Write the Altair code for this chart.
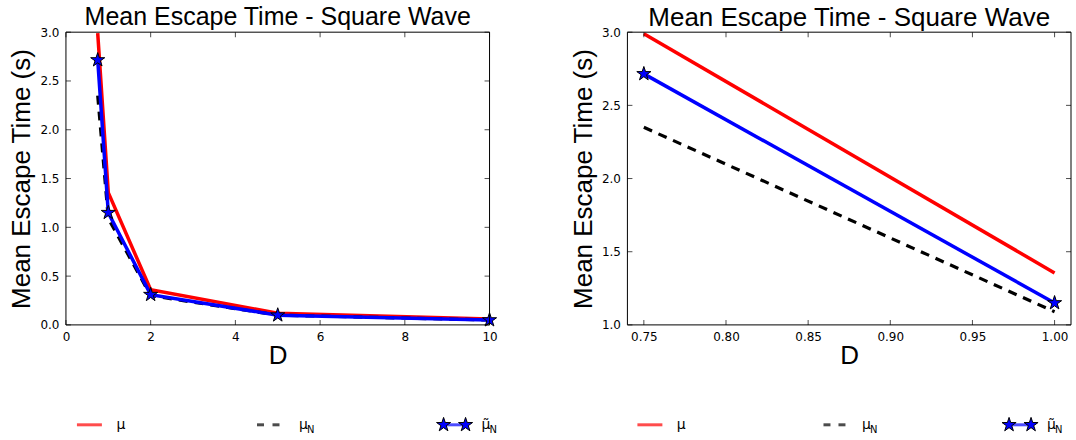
import altair as alt
import pandas as pd

# ---- data ----
D = [0.75, 1.0, 2.0, 5.0, 10.0]
mu = [2.99, 1.355, 0.36, 0.12, 0.06]
mu_N = [2.35, 1.09, 0.30, 0.10, 0.05]
mu_tilde_N = [2.715, 1.15, 0.31, 0.10, 0.05]

left_xdom = [0, 10]
left_ydom = [0, 3]
right_xdom = [0.74, 1.01]
right_ydom = [1, 3]
left_xticks = [0, 2, 4, 6, 8, 10]
left_yticks = [0.0, 0.5, 1.0, 1.5, 2.0, 2.5, 3.0]
right_xticks = [0.75, 0.80, 0.85, 0.90, 0.95, 1.00]
right_yticks = [1.0, 1.5, 2.0, 2.5, 3.0]

legend_keys = ["mu", "muN", "mutN"]
legend_main = ["μ", "μ", "μ̃"]
legend_sub = ["", "N", "N"]

chart_title = "Mean Escape Time - Square Wave"
x_title = "D"
y_title = "Mean Escape Time (s)"

series_df = pd.DataFrame({
    "D": D * 3,
    "value": mu + mu_N + mu_tilde_N,
    "series": ["mu"] * len(D) + ["muN"] * len(D) + ["mutN"] * len(D),
})
legend_df = pd.DataFrame({"key": legend_keys, "main": legend_main, "sub": legend_sub})

RED = "#ff0000"
BLUE = "#0000ff"
# five-pointed star as an SVG path in the [-1, 1] symbol space
STAR = ("M0,-1L0.2245,-0.309L0.9511,-0.309L0.3633,0.118L0.5878,0.809L0,0.382"
        "L-0.5878,0.809L-0.3633,0.118L-0.9511,-0.309L-0.2245,-0.309Z")

# layout (pixel ranges of the two panels inside one view)
W, H = 1006, 293
LEFT_RANGE = [0, 424]
RIGHT_RANGE = [562, 1006]
LEG_LEFT_RANGE = [23.5, 389]
LEG_RIGHT_RANGE = [584.5, 955]
LEG_Y = 393


def panel_layers(df, xdom, xrng, ydom, xticks, yticks, xfmt, yfmt, y_axis_offset, title_size, title_dy):
    def xs():
        return alt.Scale(domain=xdom, range=xrng, nice=False, zero=False)

    def ys():
        return alt.Scale(domain=ydom, nice=False, zero=False)

    yaxis_kw = dict(values=yticks, format=yfmt, title=y_title, orient="left", titlePadding=5)
    if y_axis_offset:
        yaxis_kw["offset"] = y_axis_offset
    x_ax = alt.X("D:Q", scale=xs(), axis=alt.Axis(values=xticks, format=xfmt, title=x_title,
                                                   orient="bottom", titlePadding=0))
    y_ax = alt.Y("value:Q", scale=ys(), axis=alt.Axis(**yaxis_kw))
    x_na = alt.X("D:Q", scale=xs(), axis=None)
    y_na = alt.Y("value:Q", scale=ys(), axis=None)

    base = alt.Chart(df)
    layers = []
    layers.append(base.transform_filter(alt.datum.series == "mu").mark_line(
        color=RED, strokeWidth=3.5).encode(x=x_ax, y=y_ax))
    layers.append(base.transform_filter(alt.datum.series == "muN").mark_line(
        color="black", strokeWidth=3.2, strokeDash=[9, 7]).encode(x=x_na, y=y_na))
    layers.append(base.transform_filter(alt.datum.series == "mutN").mark_line(
        color=BLUE, strokeWidth=3.5).encode(x=x_na, y=y_na))
    layers.append(base.transform_filter(alt.datum.series == "mutN").mark_point(
        shape=STAR, filled=True, fill=BLUE, stroke="black", strokeWidth=1,
        size=220, opacity=1).encode(x=x_na, y=y_na))

    # frame
    frame_df = pd.DataFrame({"x0": [xdom[0]], "x1": [xdom[1]], "y0": [ydom[0]], "y1": [ydom[1]]})
    layers.append(alt.Chart(frame_df).mark_rect(fillOpacity=0, stroke="black", strokeWidth=1).encode(
        x=alt.X("x0:Q", scale=xs(), axis=None), x2="x1:Q",
        y=alt.Y("y0:Q", scale=ys(), axis=None), y2="y1:Q"))

    # inward ticks on all four sides
    xt = pd.DataFrame({"t": xticks, "lo": [ydom[0]] * len(xticks), "hi": [ydom[1]] * len(xticks)})
    yt = pd.DataFrame({"t": yticks, "lo": [xdom[0]] * len(yticks), "hi": [xdom[1]] * len(yticks)})
    tk = dict(color="black", thickness=1, size=5)
    layers.append(alt.Chart(xt).mark_tick(orient="vertical", yOffset=-2.5, **tk).encode(
        x=alt.X("t:Q", scale=xs(), axis=None), y=alt.Y("lo:Q", scale=ys(), axis=None)))
    layers.append(alt.Chart(xt).mark_tick(orient="vertical", yOffset=2.5, **tk).encode(
        x=alt.X("t:Q", scale=xs(), axis=None), y=alt.Y("hi:Q", scale=ys(), axis=None)))
    layers.append(alt.Chart(yt).mark_tick(orient="horizontal", xOffset=2.5, **tk).encode(
        y=alt.Y("t:Q", scale=ys(), axis=None), x=alt.X("lo:Q", scale=xs(), axis=None)))
    layers.append(alt.Chart(yt).mark_tick(orient="horizontal", xOffset=-2.5, **tk).encode(
        y=alt.Y("t:Q", scale=ys(), axis=None), x=alt.X("hi:Q", scale=xs(), axis=None)))

    # panel title
    title_df = pd.DataFrame({"t": [chart_title], "x": [(xdom[0] + xdom[1]) / 2], "y": [ydom[1]]})
    layers.append(alt.Chart(title_df).mark_text(
        font="Liberation Sans", fontSize=title_size, color="black", baseline="alphabetic",
        align="center", dy=title_dy
    ).encode(x=alt.X("x:Q", scale=xs(), axis=None), y=alt.Y("y:Q", scale=ys(), axis=None), text="t:N"))
    return layers


def legend_layers(rng, dash_offsets):
    def xs():
        return alt.X("key:N", scale=alt.Scale(type="point", domain=legend_keys, range=rng, padding=0),
                     axis=None)
    yv = alt.value(LEG_Y)
    base = alt.Chart(legend_df)
    L = []
    L.append(base.transform_filter(alt.datum.key == "mu").mark_tick(
        orient="horizontal", color=RED, thickness=3, size=25).encode(x=xs(), y=yv))
    for off in dash_offsets:
        L.append(base.transform_filter(alt.datum.key == "muN").mark_tick(
            orient="horizontal", color="black", thickness=3, size=7, xOffset=off).encode(x=xs(), y=yv))
    L.append(base.transform_filter(alt.datum.key == "mutN").mark_tick(
        orient="horizontal", color=BLUE, thickness=3, size=22).encode(x=xs(), y=yv))
    s_kw = dict(shape=STAR, filled=True, fill=BLUE, stroke="black", strokeWidth=1, size=220, opacity=1)
    L.append(base.transform_filter(alt.datum.key == "mutN").mark_point(xOffset=-11, **s_kw).encode(x=xs(), y=yv))
    L.append(base.transform_filter(alt.datum.key == "mutN").mark_point(xOffset=11, **s_kw).encode(x=xs(), y=yv))
    L.append(base.mark_text(align="left", baseline="middle", dx=27, fontSize=14, font="DejaVu Sans",
                            color="black").encode(x=xs(), y=yv, text="main:N"))
    L.append(base.mark_text(align="left", baseline="middle", dx=35, dy=5, fontSize=10, font="DejaVu Sans",
                            color="black").encode(x=xs(), y=yv, text="sub:N"))
    return L


right_df = series_df[series_df["D"] <= 1.0].reset_index(drop=True)

layers = []
layers += panel_layers(series_df, left_xdom, LEFT_RANGE, left_ydom, left_xticks, left_yticks,
                       ".0f", ".1f", 0, 25, -7)
layers += panel_layers(right_df, right_xdom, RIGHT_RANGE, right_ydom, right_xticks, right_yticks,
                       ".2f", ".1f", -RIGHT_RANGE[0], 26, -6)
layers += legend_layers(LEG_LEFT_RANGE, [-11.5, 4])
layers += legend_layers(LEG_RIGHT_RANGE, [-8, 7])

chart = alt.layer(*layers).resolve_scale(x="independent", y="independent").properties(
    width=W, height=H,
    padding={"left": 8, "top": 5, "right": 4, "bottom": 5},
).configure_axis(
    labelFont="DejaVu Sans", labelFontSize=12, labelColor="black", labelFlush=False,
    titleFont="Liberation Sans", titleFontSize=26, titleFontWeight="normal", titleColor="black",
    ticks=False, domain=False, grid=False, labelPadding=7,
).configure_view(stroke="transparent")

chart.save("out.html", embed_options={"renderer": "svg", "actions": False})
